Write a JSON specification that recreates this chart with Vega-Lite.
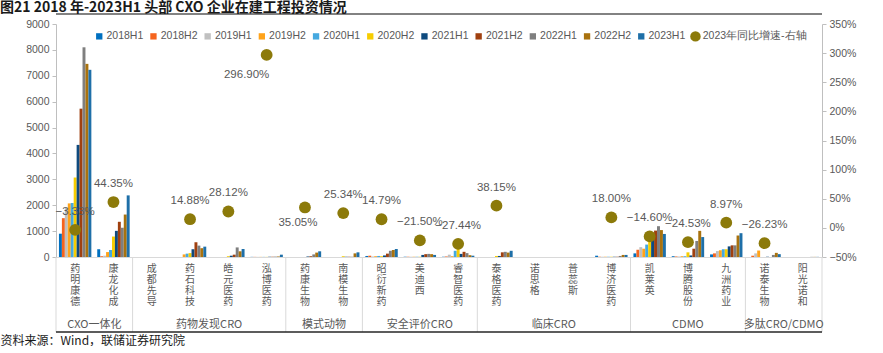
{
  "$schema": "https://vega.github.io/schema/vega-lite/v6.json",
  "padding": {"left": 0, "top": 1, "right": 5, "bottom": 0},
  "background": "white",
  "width": 766,
  "height": 233,
  "title": {"text": "图21 2018 年-2023H1 头部 CXO 企业在建工程投资情况", "anchor": "start", "frame": "bounds", "fontSize": 14, "fontWeight": "bold", "color": "#1a1a1a", "font": "Noto Sans CJK SC", "offset": -1, "dy": 1},
  "data": {"values": [
      {"group":"CXO一体化","company":"药明康德","series":"2018H1","value":900},{"group":"CXO一体化","company":"药明康德","series":"2018H2","value":1500},{"group":"CXO一体化","company":"药明康德","series":"2019H1","value":1900},{"group":"CXO一体化","company":"药明康德","series":"2019H2","value":2070},{"group":"CXO一体化","company":"药明康德","series":"2020H1","value":2090},{"group":"CXO一体化","company":"药明康德","series":"2020H2","value":3070},{"group":"CXO一体化","company":"药明康德","series":"2021H1","value":4330},{"group":"CXO一体化","company":"药明康德","series":"2021H2","value":5730},{"group":"CXO一体化","company":"药明康德","series":"2022H1","value":8100},{"group":"CXO一体化","company":"药明康德","series":"2022H2","value":7460},{"group":"CXO一体化","company":"药明康德","series":"2023H1","value":7230},
      {"group":"CXO一体化","company":"康龙化成","series":"2018H1","value":300},{"group":"CXO一体化","company":"康龙化成","series":"2018H2","value":30},{"group":"CXO一体化","company":"康龙化成","series":"2019H1","value":50},{"group":"CXO一体化","company":"康龙化成","series":"2019H2","value":190},{"group":"CXO一体化","company":"康龙化成","series":"2020H1","value":270},{"group":"CXO一体化","company":"康龙化成","series":"2020H2","value":790},{"group":"CXO一体化","company":"康龙化成","series":"2021H1","value":1010},{"group":"CXO一体化","company":"康龙化成","series":"2021H2","value":1360},{"group":"CXO一体化","company":"康龙化成","series":"2022H1","value":1130},{"group":"CXO一体化","company":"康龙化成","series":"2022H2","value":1640},{"group":"CXO一体化","company":"康龙化成","series":"2023H1","value":2380},
      {"group":"药物发现CRO","company":"成都先导","series":"2018H1","value":0},{"group":"药物发现CRO","company":"成都先导","series":"2018H2","value":0},{"group":"药物发现CRO","company":"成都先导","series":"2019H1","value":0},{"group":"药物发现CRO","company":"成都先导","series":"2019H2","value":0},{"group":"药物发现CRO","company":"成都先导","series":"2020H1","value":0},{"group":"药物发现CRO","company":"成都先导","series":"2020H2","value":0},{"group":"药物发现CRO","company":"成都先导","series":"2021H1","value":0},{"group":"药物发现CRO","company":"成都先导","series":"2021H2","value":0},{"group":"药物发现CRO","company":"成都先导","series":"2022H1","value":0},{"group":"药物发现CRO","company":"成都先导","series":"2022H2","value":0},{"group":"药物发现CRO","company":"成都先导","series":"2023H1","value":0},
      {"group":"药物发现CRO","company":"药石科技","series":"2018H1","value":0},{"group":"药物发现CRO","company":"药石科技","series":"2018H2","value":0},{"group":"药物发现CRO","company":"药石科技","series":"2019H1","value":0},{"group":"药物发现CRO","company":"药石科技","series":"2019H2","value":100},{"group":"药物发现CRO","company":"药石科技","series":"2020H1","value":130},{"group":"药物发现CRO","company":"药石科技","series":"2020H2","value":150},{"group":"药物发现CRO","company":"药石科技","series":"2021H1","value":300},{"group":"药物发现CRO","company":"药石科技","series":"2021H2","value":570},{"group":"药物发现CRO","company":"药石科技","series":"2022H1","value":440},{"group":"药物发现CRO","company":"药石科技","series":"2022H2","value":340},{"group":"药物发现CRO","company":"药石科技","series":"2023H1","value":400},
      {"group":"药物发现CRO","company":"皓元医药","series":"2018H1","value":0},{"group":"药物发现CRO","company":"皓元医药","series":"2018H2","value":0},{"group":"药物发现CRO","company":"皓元医药","series":"2019H1","value":0},{"group":"药物发现CRO","company":"皓元医药","series":"2019H2","value":0},{"group":"药物发现CRO","company":"皓元医药","series":"2020H1","value":0},{"group":"药物发现CRO","company":"皓元医药","series":"2020H2","value":30},{"group":"药物发现CRO","company":"皓元医药","series":"2021H1","value":50},{"group":"药物发现CRO","company":"皓元医药","series":"2021H2","value":90},{"group":"药物发现CRO","company":"皓元医药","series":"2022H1","value":370},{"group":"药物发现CRO","company":"皓元医药","series":"2022H2","value":220},{"group":"药物发现CRO","company":"皓元医药","series":"2023H1","value":310},
      {"group":"药物发现CRO","company":"泓博医药","series":"2018H1","value":5},{"group":"药物发现CRO","company":"泓博医药","series":"2018H2","value":5},{"group":"药物发现CRO","company":"泓博医药","series":"2019H1","value":5},{"group":"药物发现CRO","company":"泓博医药","series":"2019H2","value":5},{"group":"药物发现CRO","company":"泓博医药","series":"2020H1","value":5},{"group":"药物发现CRO","company":"泓博医药","series":"2020H2","value":5},{"group":"药物发现CRO","company":"泓博医药","series":"2021H1","value":10},{"group":"药物发现CRO","company":"泓博医药","series":"2021H2","value":10},{"group":"药物发现CRO","company":"泓博医药","series":"2022H1","value":15},{"group":"药物发现CRO","company":"泓博医药","series":"2022H2","value":20},{"group":"药物发现CRO","company":"泓博医药","series":"2023H1","value":90},
      {"group":"模式动物","company":"药康生物","series":"2018H1","value":0},{"group":"模式动物","company":"药康生物","series":"2018H2","value":0},{"group":"模式动物","company":"药康生物","series":"2019H1","value":0},{"group":"模式动物","company":"药康生物","series":"2019H2","value":0},{"group":"模式动物","company":"药康生物","series":"2020H1","value":0},{"group":"模式动物","company":"药康生物","series":"2020H2","value":0},{"group":"模式动物","company":"药康生物","series":"2021H1","value":20},{"group":"模式动物","company":"药康生物","series":"2021H2","value":30},{"group":"模式动物","company":"药康生物","series":"2022H1","value":100},{"group":"模式动物","company":"药康生物","series":"2022H2","value":170},{"group":"模式动物","company":"药康生物","series":"2023H1","value":220},
      {"group":"模式动物","company":"南模生物","series":"2018H1","value":0},{"group":"模式动物","company":"南模生物","series":"2018H2","value":0},{"group":"模式动物","company":"南模生物","series":"2019H1","value":0},{"group":"模式动物","company":"南模生物","series":"2019H2","value":0},{"group":"模式动物","company":"南模生物","series":"2020H1","value":0},{"group":"模式动物","company":"南模生物","series":"2020H2","value":30},{"group":"模式动物","company":"南模生物","series":"2021H1","value":10},{"group":"模式动物","company":"南模生物","series":"2021H2","value":10},{"group":"模式动物","company":"南模生物","series":"2022H1","value":10},{"group":"模式动物","company":"南模生物","series":"2022H2","value":140},{"group":"模式动物","company":"南模生物","series":"2023H1","value":180},
      {"group":"安全评价CRO","company":"昭衍新药","series":"2018H1","value":40},{"group":"安全评价CRO","company":"昭衍新药","series":"2018H2","value":50},{"group":"安全评价CRO","company":"昭衍新药","series":"2019H1","value":20},{"group":"安全评价CRO","company":"昭衍新药","series":"2019H2","value":30},{"group":"安全评价CRO","company":"昭衍新药","series":"2020H1","value":40},{"group":"安全评价CRO","company":"昭衍新药","series":"2020H2","value":30},{"group":"安全评价CRO","company":"昭衍新药","series":"2021H1","value":60},{"group":"安全评价CRO","company":"昭衍新药","series":"2021H2","value":130},{"group":"安全评价CRO","company":"昭衍新药","series":"2022H1","value":240},{"group":"安全评价CRO","company":"昭衍新药","series":"2022H2","value":270},{"group":"安全评价CRO","company":"昭衍新药","series":"2023H1","value":310},
      {"group":"安全评价CRO","company":"美迪西","series":"2018H1","value":10},{"group":"安全评价CRO","company":"美迪西","series":"2018H2","value":10},{"group":"安全评价CRO","company":"美迪西","series":"2019H1","value":10},{"group":"安全评价CRO","company":"美迪西","series":"2019H2","value":10},{"group":"安全评价CRO","company":"美迪西","series":"2020H1","value":10},{"group":"安全评价CRO","company":"美迪西","series":"2020H2","value":10},{"group":"安全评价CRO","company":"美迪西","series":"2021H1","value":80},{"group":"安全评价CRO","company":"美迪西","series":"2021H2","value":110},{"group":"安全评价CRO","company":"美迪西","series":"2022H1","value":120},{"group":"安全评价CRO","company":"美迪西","series":"2022H2","value":110},{"group":"安全评价CRO","company":"美迪西","series":"2023H1","value":80},
      {"group":"安全评价CRO","company":"睿智医药","series":"2018H1","value":10},{"group":"安全评价CRO","company":"睿智医药","series":"2018H2","value":20},{"group":"安全评价CRO","company":"睿智医药","series":"2019H1","value":90},{"group":"安全评价CRO","company":"睿智医药","series":"2019H2","value":30},{"group":"安全评价CRO","company":"睿智医药","series":"2020H1","value":240},{"group":"安全评价CRO","company":"睿智医药","series":"2020H2","value":310},{"group":"安全评价CRO","company":"睿智医药","series":"2021H1","value":120},{"group":"安全评价CRO","company":"睿智医药","series":"2021H2","value":200},{"group":"安全评价CRO","company":"睿智医药","series":"2022H1","value":150},{"group":"安全评价CRO","company":"睿智医药","series":"2022H2","value":70},{"group":"安全评价CRO","company":"睿智医药","series":"2023H1","value":50},
      {"group":"临床CRO","company":"泰格医药","series":"2018H1","value":0},{"group":"临床CRO","company":"泰格医药","series":"2018H2","value":0},{"group":"临床CRO","company":"泰格医药","series":"2019H1","value":0},{"group":"临床CRO","company":"泰格医药","series":"2019H2","value":0},{"group":"临床CRO","company":"泰格医药","series":"2020H1","value":0},{"group":"临床CRO","company":"泰格医药","series":"2020H2","value":40},{"group":"临床CRO","company":"泰格医药","series":"2021H1","value":40},{"group":"临床CRO","company":"泰格医药","series":"2021H2","value":180},{"group":"临床CRO","company":"泰格医药","series":"2022H1","value":200},{"group":"临床CRO","company":"泰格医药","series":"2022H2","value":170},{"group":"临床CRO","company":"泰格医药","series":"2023H1","value":240},
      {"group":"临床CRO","company":"诺思格","series":"2018H1","value":0},{"group":"临床CRO","company":"诺思格","series":"2018H2","value":0},{"group":"临床CRO","company":"诺思格","series":"2019H1","value":0},{"group":"临床CRO","company":"诺思格","series":"2019H2","value":0},{"group":"临床CRO","company":"诺思格","series":"2020H1","value":0},{"group":"临床CRO","company":"诺思格","series":"2020H2","value":0},{"group":"临床CRO","company":"诺思格","series":"2021H1","value":0},{"group":"临床CRO","company":"诺思格","series":"2021H2","value":0},{"group":"临床CRO","company":"诺思格","series":"2022H1","value":0},{"group":"临床CRO","company":"诺思格","series":"2022H2","value":0},{"group":"临床CRO","company":"诺思格","series":"2023H1","value":0},
      {"group":"临床CRO","company":"普蕊斯","series":"2018H1","value":0},{"group":"临床CRO","company":"普蕊斯","series":"2018H2","value":0},{"group":"临床CRO","company":"普蕊斯","series":"2019H1","value":0},{"group":"临床CRO","company":"普蕊斯","series":"2019H2","value":0},{"group":"临床CRO","company":"普蕊斯","series":"2020H1","value":0},{"group":"临床CRO","company":"普蕊斯","series":"2020H2","value":0},{"group":"临床CRO","company":"普蕊斯","series":"2021H1","value":0},{"group":"临床CRO","company":"普蕊斯","series":"2021H2","value":0},{"group":"临床CRO","company":"普蕊斯","series":"2022H1","value":0},{"group":"临床CRO","company":"普蕊斯","series":"2022H2","value":0},{"group":"临床CRO","company":"普蕊斯","series":"2023H1","value":0},
      {"group":"临床CRO","company":"博济医药","series":"2018H1","value":50},{"group":"临床CRO","company":"博济医药","series":"2018H2","value":10},{"group":"临床CRO","company":"博济医药","series":"2019H1","value":10},{"group":"临床CRO","company":"博济医药","series":"2019H2","value":10},{"group":"临床CRO","company":"博济医药","series":"2020H1","value":10},{"group":"临床CRO","company":"博济医药","series":"2020H2","value":10},{"group":"临床CRO","company":"博济医药","series":"2021H1","value":10},{"group":"临床CRO","company":"博济医药","series":"2021H2","value":10},{"group":"临床CRO","company":"博济医药","series":"2022H1","value":40},{"group":"临床CRO","company":"博济医药","series":"2022H2","value":80},{"group":"临床CRO","company":"博济医药","series":"2023H1","value":80},
      {"group":"CDMO","company":"凯莱英","series":"2018H1","value":140},{"group":"CDMO","company":"凯莱英","series":"2018H2","value":280},{"group":"CDMO","company":"凯莱英","series":"2019H1","value":380},{"group":"CDMO","company":"凯莱英","series":"2019H2","value":320},{"group":"CDMO","company":"凯莱英","series":"2020H1","value":480},{"group":"CDMO","company":"凯莱英","series":"2020H2","value":600},{"group":"CDMO","company":"凯莱英","series":"2021H1","value":850},{"group":"CDMO","company":"凯莱英","series":"2021H2","value":1020},{"group":"CDMO","company":"凯莱英","series":"2022H1","value":1190},{"group":"CDMO","company":"凯莱英","series":"2022H2","value":1040},{"group":"CDMO","company":"凯莱英","series":"2023H1","value":890},
      {"group":"CDMO","company":"博腾股份","series":"2018H1","value":30},{"group":"CDMO","company":"博腾股份","series":"2018H2","value":20},{"group":"CDMO","company":"博腾股份","series":"2019H1","value":20},{"group":"CDMO","company":"博腾股份","series":"2019H2","value":30},{"group":"CDMO","company":"博腾股份","series":"2020H1","value":30},{"group":"CDMO","company":"博腾股份","series":"2020H2","value":180},{"group":"CDMO","company":"博腾股份","series":"2021H1","value":60},{"group":"CDMO","company":"博腾股份","series":"2021H2","value":320},{"group":"CDMO","company":"博腾股份","series":"2022H1","value":620},{"group":"CDMO","company":"博腾股份","series":"2022H2","value":1010},{"group":"CDMO","company":"博腾股份","series":"2023H1","value":770},
      {"group":"CDMO","company":"九洲药业","series":"2018H1","value":100},{"group":"CDMO","company":"九洲药业","series":"2018H2","value":140},{"group":"CDMO","company":"九洲药业","series":"2019H1","value":230},{"group":"CDMO","company":"九洲药业","series":"2019H2","value":260},{"group":"CDMO","company":"九洲药业","series":"2020H1","value":300},{"group":"CDMO","company":"九洲药业","series":"2020H2","value":300},{"group":"CDMO","company":"九洲药业","series":"2021H1","value":410},{"group":"CDMO","company":"九洲药业","series":"2021H2","value":450},{"group":"CDMO","company":"九洲药业","series":"2022H1","value":450},{"group":"CDMO","company":"九洲药业","series":"2022H2","value":830},{"group":"CDMO","company":"九洲药业","series":"2023H1","value":920},
      {"group":"多肽CRO/CDMO","company":"诺泰生物","series":"2018H1","value":0},{"group":"多肽CRO/CDMO","company":"诺泰生物","series":"2018H2","value":50},{"group":"多肽CRO/CDMO","company":"诺泰生物","series":"2019H1","value":140},{"group":"多肽CRO/CDMO","company":"诺泰生物","series":"2019H2","value":250},{"group":"多肽CRO/CDMO","company":"诺泰生物","series":"2020H1","value":0},{"group":"多肽CRO/CDMO","company":"诺泰生物","series":"2020H2","value":0},{"group":"多肽CRO/CDMO","company":"诺泰生物","series":"2021H1","value":10},{"group":"多肽CRO/CDMO","company":"诺泰生物","series":"2021H2","value":0},{"group":"多肽CRO/CDMO","company":"诺泰生物","series":"2022H1","value":80},{"group":"多肽CRO/CDMO","company":"诺泰生物","series":"2022H2","value":160},{"group":"多肽CRO/CDMO","company":"诺泰生物","series":"2023H1","value":110},
      {"group":"多肽CRO/CDMO","company":"阳光诺和","series":"2018H1","value":0},{"group":"多肽CRO/CDMO","company":"阳光诺和","series":"2018H2","value":0},{"group":"多肽CRO/CDMO","company":"阳光诺和","series":"2019H1","value":0},{"group":"多肽CRO/CDMO","company":"阳光诺和","series":"2019H2","value":0},{"group":"多肽CRO/CDMO","company":"阳光诺和","series":"2020H1","value":0},{"group":"多肽CRO/CDMO","company":"阳光诺和","series":"2020H2","value":0},{"group":"多肽CRO/CDMO","company":"阳光诺和","series":"2021H1","value":0},{"group":"多肽CRO/CDMO","company":"阳光诺和","series":"2021H2","value":0},{"group":"多肽CRO/CDMO","company":"阳光诺和","series":"2022H1","value":5},{"group":"多肽CRO/CDMO","company":"阳光诺和","series":"2022H2","value":5},{"group":"多肽CRO/CDMO","company":"阳光诺和","series":"2023H1","value":5},
      {"group":"CXO一体化","company":"药明康德","series":"2023年同比增速-右轴","pct":-0.0333},
      {"group":"CXO一体化","company":"康龙化成","series":"2023年同比增速-右轴","pct":0.4435},
      {"group":"药物发现CRO","company":"药石科技","series":"2023年同比增速-右轴","pct":0.1488},
      {"group":"药物发现CRO","company":"皓元医药","series":"2023年同比增速-右轴","pct":0.2812},
      {"group":"药物发现CRO","company":"泓博医药","series":"2023年同比增速-右轴","pct":2.969},
      {"group":"模式动物","company":"药康生物","series":"2023年同比增速-右轴","pct":0.3505},
      {"group":"模式动物","company":"南模生物","series":"2023年同比增速-右轴","pct":0.2534},
      {"group":"安全评价CRO","company":"昭衍新药","series":"2023年同比增速-右轴","pct":0.1479},
      {"group":"安全评价CRO","company":"美迪西","series":"2023年同比增速-右轴","pct":-0.215},
      {"group":"安全评价CRO","company":"睿智医药","series":"2023年同比增速-右轴","pct":-0.2744},
      {"group":"临床CRO","company":"泰格医药","series":"2023年同比增速-右轴","pct":0.3815},
      {"group":"临床CRO","company":"博济医药","series":"2023年同比增速-右轴","pct":0.18},
      {"group":"CDMO","company":"凯莱英","series":"2023年同比增速-右轴","pct":-0.146},
      {"group":"CDMO","company":"博腾股份","series":"2023年同比增速-右轴","pct":-0.2453},
      {"group":"CDMO","company":"九洲药业","series":"2023年同比增速-右轴","pct":0.0897},
      {"group":"多肽CRO/CDMO","company":"诺泰生物","series":"2023年同比增速-右轴","pct":-0.2623}
  ]},
  "layer": [
    {
      "transform": [{"filter": "isValid(datum.value)"}],
      "mark": {"type": "bar"},
      "encoding": {
        "x": {"field": "company", "type": "nominal", "sort": ["药明康德","康龙化成","成都先导","药石科技","皓元医药","泓博医药","药康生物","南模生物","昭衍新药","美迪西","睿智医药","泰格医药","诺思格","普蕊斯","博济医药","凯莱英","博腾股份","九洲药业","诺泰生物","阳光诺和"], "scale": {"paddingInner": 0, "paddingOuter": 0},
          "axis": {"title": "资料来源：Wind，联储证券研究院", "titleAnchor": "start", "titleAlign": "left", "titleBaseline": "top", "titleX": -56, "titleY": 78, "titleFont": "Noto Sans CJK SC", "titleFontSize": 12, "titleFontWeight": "normal", "titleColor": "#1a1a1a",
            "labelExpr": "split(datum.label, '')", "labelAngle": 0, "labelLineHeight": 11.2, "labelFontSize": 10, "labelFont": "Noto Sans CJK SC", "labelColor": "#595959", "labelBaseline": "top", "labelPadding": 6, "ticks": false, "domainColor": "#D9D9D9", "labelOverlap": false}},
        "xOffset": {"field": "series", "type": "nominal", "sort": ["2018H1","2018H2","2019H1","2019H2","2020H1","2020H2","2021H1","2021H2","2022H1","2022H2","2023H1"], "scale": {"paddingInner": 0, "paddingOuter": 1.35}},
        "y": {"field": "value", "type": "quantitative", "scale": {"domain": [0, 9000]}, "axis": {"title": null, "format": "d", "values": [0,1000,2000,3000,4000,5000,6000,7000,8000,9000], "grid": false, "labelColor": "#595959", "labelFontSize": 10.5, "labelFont": "Liberation Sans", "domainColor": "#BFBFBF", "tickColor": "#BFBFBF", "tickSize": 4, "labelPadding": 3}},
        "color": {"field": "series", "type": "nominal", "scale": {"domain": ["2018H1","2018H2","2019H1","2019H2","2020H1","2020H2","2021H1","2021H2","2022H1","2022H2","2023H1","2023年同比增速-右轴"], "range": ["#0070C0","#F5641E","#C0C0C0","#FFA31A","#45A9E0","#F7CD00","#0E4A7E","#A0400F","#7F7F7F","#A9720E","#1E6FA8","#8C7A0A"]},
          "legend": {"title": null, "orient": "none", "legendX": 38, "legendY": 7, "direction": "horizontal", "columns": 12, "symbolType": "square", "symbolSize": 40, "labelFontSize": 10.5, "labelFont": "Liberation Sans", "labelColor": "#595959", "columnPadding": 4.2, "labelOffset": 2,
            "encode": {"symbols": {"update": {"shape": {"signal": "datum.value === '2023年同比增速-右轴' ? 'circle' : 'square'"}, "size": {"signal": "datum.value === '2023年同比增速-右轴' ? 110 : 40"}}}}}}
      }
    },
    {
      "transform": [
        {"filter": "isValid(datum.value) && datum.series === '2018H1'"},
        {"window": [{"op": "row_number", "as": "rank"}], "groupby": ["group"]},
        {"filter": "datum.rank === 1"}
      ],
      "mark": {"type": "rule", "color": "#D9D9D9", "strokeWidth": 1},
      "encoding": {
        "x": {"field": "company", "type": "nominal", "bandPosition": 0, "sort": ["药明康德","康龙化成","成都先导","药石科技","皓元医药","泓博医药","药康生物","南模生物","昭衍新药","美迪西","睿智医药","泰格医药","诺思格","普蕊斯","博济医药","凯莱英","博腾股份","九洲药业","诺泰生物","阳光诺和"]},
        "y": {"datum": 0, "type": "quantitative", "scale": {"domain": [0, 9000]}, "axis": null},
        "y2": {"datum": -2900}
      }
    },
    {
      "transform": [{"filter": "isValid(datum.value) && datum.series === '2018H1' && datum.company === '阳光诺和'"}],
      "mark": {"type": "rule", "color": "#D9D9D9", "strokeWidth": 1},
      "encoding": {
        "x": {"field": "company", "type": "nominal", "bandPosition": 1, "sort": ["药明康德","康龙化成","成都先导","药石科技","皓元医药","泓博医药","药康生物","南模生物","昭衍新药","美迪西","睿智医药","泰格医药","诺思格","普蕊斯","博济医药","凯莱英","博腾股份","九洲药业","诺泰生物","阳光诺和"]},
        "y": {"datum": 0, "type": "quantitative", "scale": {"domain": [0, 9000]}, "axis": null},
        "y2": {"datum": -2900}
      }
    },
    {
      "transform": [
        {"filter": "isValid(datum.value) && datum.series === '2018H1'"},
        {"window": [{"op": "row_number", "as": "rank"}], "groupby": ["group"]},
        {"joinaggregate": [{"op": "count", "as": "n"}], "groupby": ["group"]},
        {"filter": "datum.n % 2 === 1 && datum.rank === (datum.n + 1) / 2"}
      ],
      "mark": {"type": "text", "font": "Noto Sans CJK SC", "fontSize": 11, "color": "#595959", "baseline": "middle"},
      "encoding": {
        "x": {"field": "company", "type": "nominal", "bandPosition": 0.5, "sort": ["药明康德","康龙化成","成都先导","药石科技","皓元医药","泓博医药","药康生物","南模生物","昭衍新药","美迪西","睿智医药","泰格医药","诺思格","普蕊斯","博济医药","凯莱英","博腾股份","九洲药业","诺泰生物","阳光诺和"]},
        "y": {"datum": -2630, "type": "quantitative", "scale": {"domain": [0, 9000]}, "axis": null},
        "text": {"field": "group"}
      }
    },
    {
      "transform": [
        {"filter": "isValid(datum.value) && datum.series === '2018H1'"},
        {"window": [{"op": "row_number", "as": "rank"}], "groupby": ["group"]},
        {"joinaggregate": [{"op": "count", "as": "n"}], "groupby": ["group"]},
        {"filter": "datum.n % 2 === 0 && datum.rank === datum.n / 2"}
      ],
      "mark": {"type": "text", "font": "Noto Sans CJK SC", "fontSize": 11, "color": "#595959", "baseline": "middle"},
      "encoding": {
        "x": {"field": "company", "type": "nominal", "bandPosition": 1, "sort": ["药明康德","康龙化成","成都先导","药石科技","皓元医药","泓博医药","药康生物","南模生物","昭衍新药","美迪西","睿智医药","泰格医药","诺思格","普蕊斯","博济医药","凯莱英","博腾股份","九洲药业","诺泰生物","阳光诺和"]},
        "y": {"datum": -2630, "type": "quantitative", "scale": {"domain": [0, 9000]}, "axis": null},
        "text": {"field": "group"}
      }
    },
    {
      "transform": [{"aggregate": [{"op": "count", "as": "rows"}]}],
      "mark": {"type": "rule", "color": "#262626", "strokeWidth": 1.5},
      "encoding": {"y": {"datum": -2900, "type": "quantitative", "scale": {"domain": [0, 9000]}, "axis": null}}
    },
    {
      "transform": [{"aggregate": [{"op": "count", "as": "rows"}]}],
      "mark": {"type": "rule", "color": "#595959", "strokeWidth": 1.5},
      "encoding": {"y": {"datum": 9390, "type": "quantitative", "scale": {"domain": [0, 9000]}, "axis": null}}
    },
    {
      "transform": [{"filter": "isValid(datum.pct)"}],
      "mark": {"type": "circle", "size": 140, "opacity": 1},
      "encoding": {
        "x": {"field": "company", "type": "nominal", "sort": ["药明康德","康龙化成","成都先导","药石科技","皓元医药","泓博医药","药康生物","南模生物","昭衍新药","美迪西","睿智医药","泰格医药","诺思格","普蕊斯","博济医药","凯莱英","博腾股份","九洲药业","诺泰生物","阳光诺和"]},
        "y": {"field": "pct", "type": "quantitative", "scale": {"domain": [-0.5, 3.5]}, "axis": {"orient": "right", "title": null, "format": ".0%", "values": [-0.5,0,0.5,1,1.5,2,2.5,3,3.5], "grid": false, "labelColor": "#595959", "labelFontSize": 10.5, "labelFont": "Liberation Sans", "domainColor": "#BFBFBF", "tickColor": "#BFBFBF", "tickSize": 4, "labelPadding": 3}},
        "color": {"field": "series", "type": "nominal"}
      }
    },
    {
      "transform": [{"filter": "isValid(datum.pct) && datum.company !== '药康生物' && datum.company !== '泓博医药'"}],
      "mark": {"type": "text", "dy": -18, "fontSize": 11.5, "font": "Liberation Sans", "color": "#595959"},
      "encoding": {
        "x": {"field": "company", "type": "nominal", "sort": ["药明康德","康龙化成","成都先导","药石科技","皓元医药","泓博医药","药康生物","南模生物","昭衍新药","美迪西","睿智医药","泰格医药","诺思格","普蕊斯","博济医药","凯莱英","博腾股份","九洲药业","诺泰生物","阳光诺和"]},
        "y": {"field": "pct", "type": "quantitative", "scale": {"domain": [-0.5, 3.5]}, "axis": null},
        "text": {"field": "pct", "format": ".2%"}
      }
    },
    {
      "transform": [{"filter": "datum.company === '药康生物' && isValid(datum.pct)"}],
      "mark": {"type": "text", "dy": 16, "dx": -7, "fontSize": 11.5, "font": "Liberation Sans", "color": "#595959"},
      "encoding": {
        "x": {"field": "company", "type": "nominal", "sort": ["药明康德","康龙化成","成都先导","药石科技","皓元医药","泓博医药","药康生物","南模生物","昭衍新药","美迪西","睿智医药","泰格医药","诺思格","普蕊斯","博济医药","凯莱英","博腾股份","九洲药业","诺泰生物","阳光诺和"]},
        "y": {"field": "pct", "type": "quantitative", "scale": {"domain": [-0.5, 3.5]}, "axis": null},
        "text": {"field": "pct", "format": ".2%"}
      }
    },
    {
      "transform": [{"filter": "datum.company === '泓博医药' && isValid(datum.pct)"}],
      "mark": {"type": "text", "dy": 20, "dx": -20, "fontSize": 11.5, "font": "Liberation Sans", "color": "#595959"},
      "encoding": {
        "x": {"field": "company", "type": "nominal", "sort": ["药明康德","康龙化成","成都先导","药石科技","皓元医药","泓博医药","药康生物","南模生物","昭衍新药","美迪西","睿智医药","泰格医药","诺思格","普蕊斯","博济医药","凯莱英","博腾股份","九洲药业","诺泰生物","阳光诺和"]},
        "y": {"field": "pct", "type": "quantitative", "scale": {"domain": [-0.5, 3.5]}, "axis": null},
        "text": {"field": "pct", "format": ".2%"}
      }
    }
  ],
  "resolve": {"scale": {"y": "independent"}},
  "config": {"view": {"stroke": null}}
}
